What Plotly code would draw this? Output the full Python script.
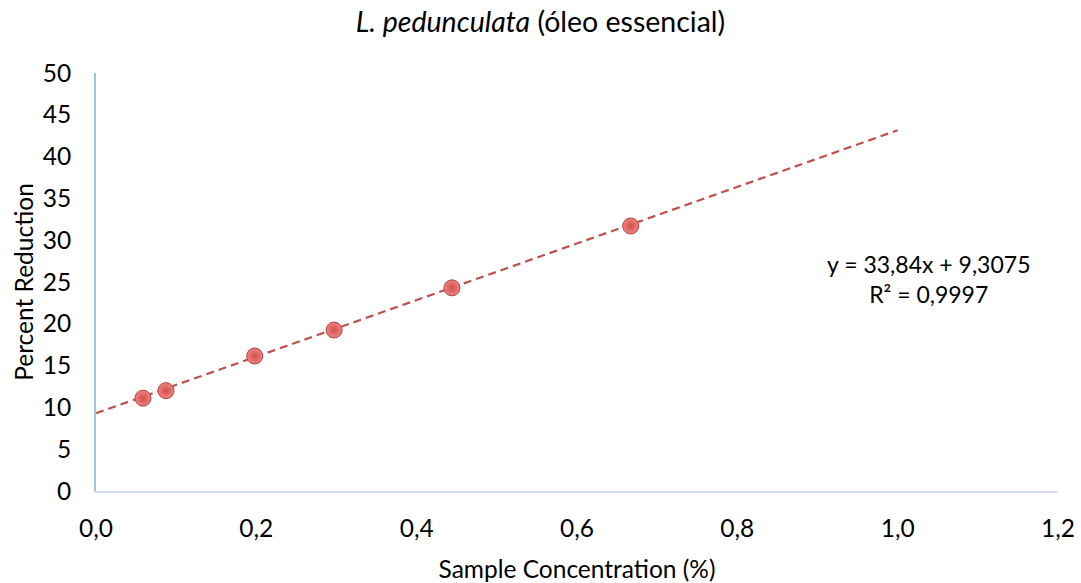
import plotly.graph_objects as go

x_conc = [0.0586, 0.0873, 0.198, 0.297, 0.444, 0.667]
y_red = [11.1, 12.0, 16.15, 19.25, 24.3, 31.7]
slope = 33.84
intercept = 9.3075
trend_x = [0.0, 1.0]
trend_y = [intercept + slope * v for v in trend_x]
x_ticks = [0.0, 0.2, 0.4, 0.6, 0.8, 1.0, 1.2]
x_tick_text = ["0,0", "0,2", "0,4", "0,6", "0,8", "1,0", "1,2"]
y_ticks = [0, 5, 10, 15, 20, 25, 30, 35, 40, 45, 50]

font_family = "Lato, 'Open Sans', sans-serif"

fig = go.Figure()
fig.add_trace(go.Scatter(
    x=trend_x, y=trend_y, mode="lines",
    line=dict(color="#C0504D", width=2.2, dash="8px,5px"),
    hoverinfo="skip", showlegend=False,
))
fig.add_trace(go.Scatter(
    x=x_conc, y=y_red, mode="markers",
    marker=dict(size=16, color="#EE8482",
                gradient=dict(type="radial", color="#D24E4B"),
                line=dict(color="#B5403D", width=1)),
    showlegend=False,
))

fig.add_annotation(
    xref="paper", yref="paper",
    x=(928 - 96) / (1058 - 96), y=(491 - 279) / (491 - 73),
    text="y = 33,84x + 9,3075<br>R² = 0,9997",
    showarrow=False, align="center", xanchor="center", yanchor="middle",
    font=dict(family=font_family, size=23, color="#000000"),
)

fig.update_layout(
    width=1081, height=583,
    margin=dict(l=96, r=23, t=73, b=92, autoexpand=False),
    paper_bgcolor="white", plot_bgcolor="white",
    title=dict(
        text="<i>L. pedunculata</i> (óleo essencial)",
        x=0.5, xanchor="center", y=1 - 22 / 583, yanchor="middle",
        font=dict(family=font_family, size=28.5, color="#000000"),
    ),
    font=dict(family=font_family, color="#000000"),
    xaxis=dict(
        range=[0, 1.2], tickvals=x_ticks, ticktext=x_tick_text,
        showgrid=False, zeroline=False, automargin=False,
        showline=True, linecolor="#D6E2F3", linewidth=2,
        ticks="", tickfont=dict(size=24.5, family=font_family),
        ticklabelstandoff=15,
        title=dict(text="Sample Concentration (%)", standoff=19,
                   font=dict(size=24.5, family=font_family)),
    ),
    yaxis=dict(
        range=[0, 50], tickvals=y_ticks,
        showgrid=False, zeroline=False, automargin=False,
        showline=True, linecolor="#9DC3E6", linewidth=2,
        ticks="", tickfont=dict(size=24.5, family=font_family),
        ticklabelstandoff=18,
        title=dict(text="Percent Reduction", standoff=2,
                   font=dict(size=24.5, family=font_family)),
    ),
)

fig.write_html("out.html")
